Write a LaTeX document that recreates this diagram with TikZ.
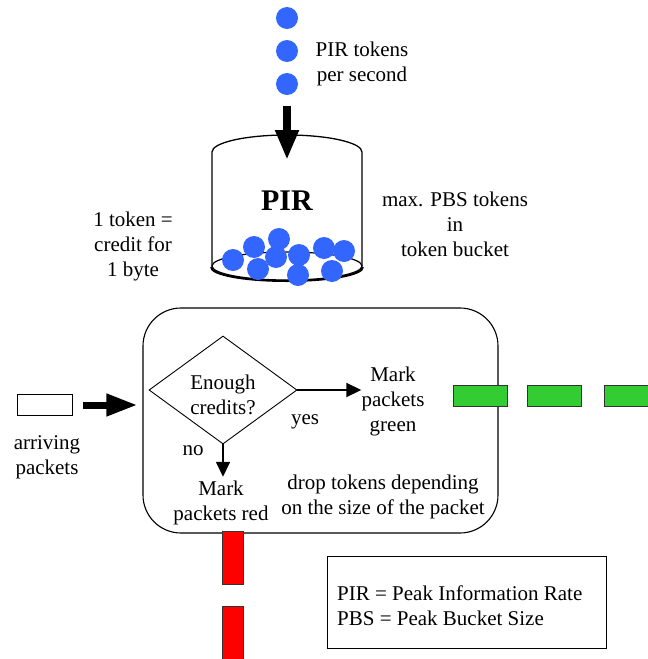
\documentclass[tikz,border=0pt]{standalone}
\usepackage{fontspec}
\setmainfont{Liberation Serif}
\usetikzlibrary{shapes.geometric,arrows.meta}
\definecolor{tokenblue}{RGB}{51,102,255}
\definecolor{pktgreen}{RGB}{51,204,51}
\definecolor{pktred}{RGB}{255,0,0}
\tikzset{
  txt/.style={font=\fontsize{21}{25}\selectfont, align=center, inner sep=0pt},
  token/.style={circle, fill=tokenblue, minimum size=22pt, inner sep=0pt},
  greenpkt/.style={draw=black!80, fill=pktgreen, minimum width=54pt, minimum height=21pt, inner sep=0pt, line width=0.8pt},
  redpkt/.style={draw=black!80, fill=pktred, minimum width=21pt, minimum height=53pt, inner sep=0pt, line width=0.8pt},
  fatarrow/.style={line width=8pt, -{Triangle[length=30pt,width=22pt]}},
  thinarrow/.style={line width=1.6pt, -{Triangle[length=15pt,width=14pt]}},
}
\begin{document}
\begin{tikzpicture}[x=1pt, y=-1pt]
\useasboundingbox (0,0) rectangle (648,659);

% incoming tokens
\node[token] (dot1) at (287,18) {};
\node[token] (dot2) at (287,51) {};
\node[token] (dot3) at (287,84) {};
\node[txt] (rate) at (362,64) {PIR tokens\\per second};

% bucket
\coordinate (bucketin) at (287,160);
\draw[line width=1.3pt]
  (212,266) -- (212,152)
  .. controls (212,142.6) and (245.6,135) .. (287,135)
  .. controls (328.4,135) and (362,142.6) .. (362,152)
  -- (362,266);
\draw[line width=1.2pt] (287,266) ellipse [x radius=75, y radius=14];
\draw[line width=2pt] (211,267) .. controls (211,275) and (245,281) .. (287,281)
  .. controls (329,281) and (363,275) .. (363,267);
\draw[fatarrow] ([yshift=-11pt]dot3.south) -- (bucketin);
\node[txt, font=\fontsize{30}{34}\selectfont\bfseries] (pir) at (287,201) {PIR};

% tokens in the bucket
\foreach \x/\y in {233/260, 254/247, 279/239, 276/257, 258/269, 299/255, 298/275, 324/248, 344/251, 332/271}
  \node[token] at (\x,\y) {};

\node[txt] (credit) at (133,246) {1 token =\\credit for\\1 byte};
\node[txt] (maxpbs) at (455,224) {max. PBS tokens\\in\\token bucket};

% marker
\node[draw, rounded corners=38pt, line width=1.1pt, minimum width=355pt, minimum height=225pt, inner sep=0pt] (proc) at (320.5,420.5) {};
\node[draw, diamond, line width=0.9pt, minimum width=148pt, minimum height=108pt, inner sep=0pt] (q) at (223,390) {};
\node[txt] (qtext) at (223,395) {Enough\\credits?};
\node[txt] (green) at (393,401) {Mark\\packets\\green};
\node[txt] (red) at (221,503) {Mark\\packets red};
\node[txt] (drop) at (383,497) {drop tokens depending\\on the size of the packet};
\node[txt] at (305,422) {yes};
\node[txt] at (193,451) {no};
\draw[thinarrow] (q.east) -- (green.west |- q.east);
\draw[thinarrow] (q.south) -- ([yshift=4pt]red.north -| q.south);

% arriving packet
\node[draw, line width=0.9pt, minimum width=55pt, minimum height=21pt, inner sep=0pt] (pkt) at (44.5,405) {};
\node[txt] (arr) at (47,457) {arriving\\packets};
\draw[fatarrow, line width=7pt, -{Triangle[length=31pt,width=21pt]}] ([xshift=11pt]pkt.east) -- ([xshift=-5pt]proc.west |- pkt.east);

% outgoing packets
\node[greenpkt] (g1) at (480,395.5) {};
\node[greenpkt] (g2) at (554,395.5) {};
\node[greenpkt] (g3) at (631,395.5) {};
\node[redpkt] (r1) at (232.5,557.5) {};
\node[redpkt] (r2) at (232.5,633) {};

% legend
\node[draw, line width=0.9pt, minimum width=279pt, minimum height=92pt, inner sep=0pt] (legend) at (466.5,602) {};
\node[txt, align=left, anchor=west] at (337,606) {PIR = Peak Information Rate\\PBS = Peak Bucket Size};
\end{tikzpicture}
\end{document}
